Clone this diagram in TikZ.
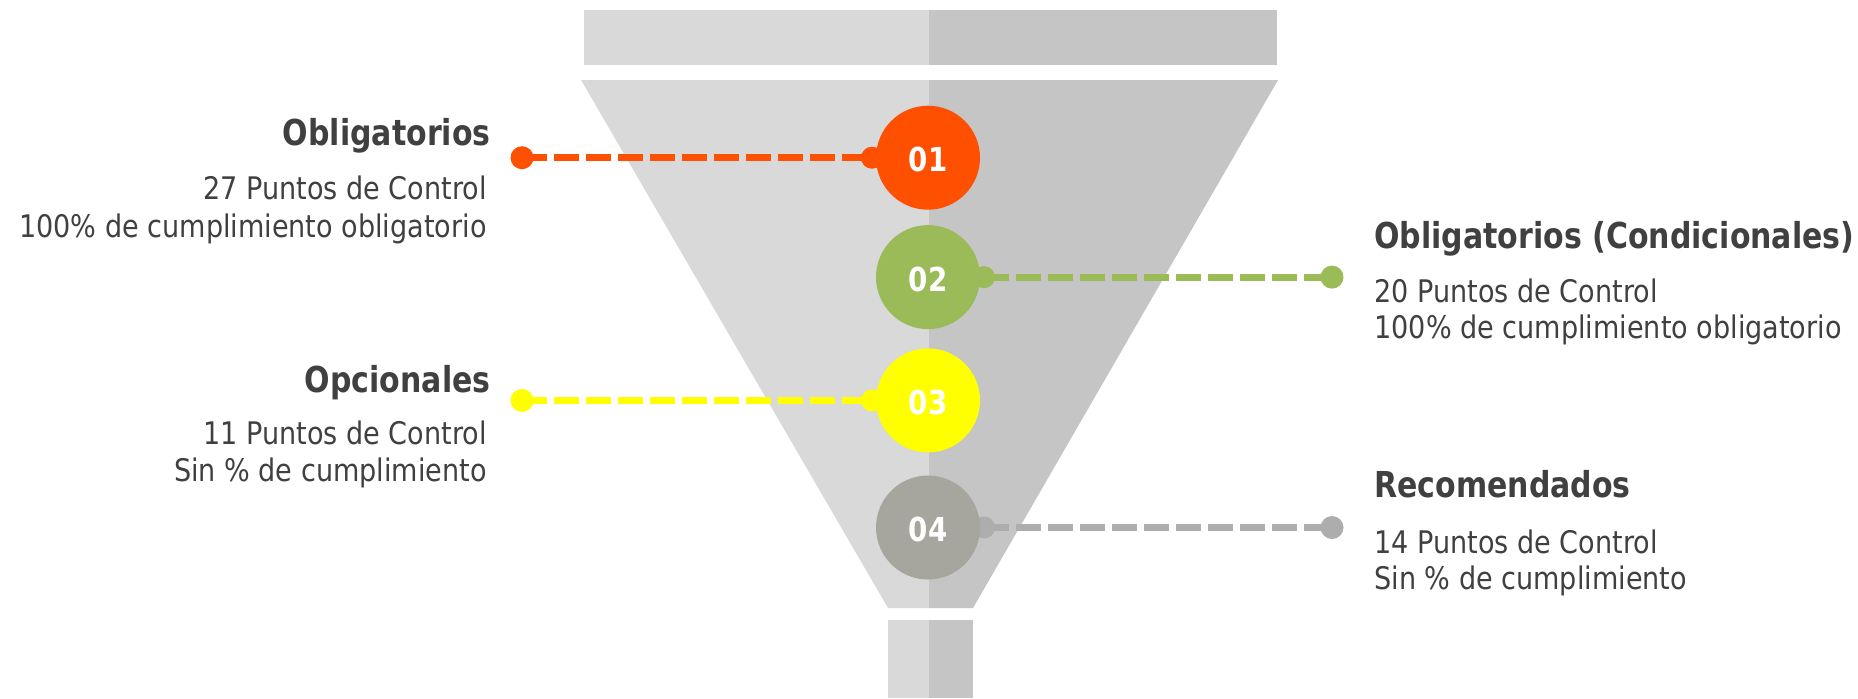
\documentclass[tikz,border=0pt]{standalone}
\usepackage{fontspec}
\setmainfont{DejaVu Sans}
\newfontfamily\bodyfont[FakeStretch=0.87]{DejaVu Sans}
\newfontfamily\headfont[FakeStretch=0.84]{DejaVu Sans Bold}
\definecolor{orangec}{HTML}{FF4F00}
\definecolor{greenc}{HTML}{9BBB59}
\definecolor{yellowc}{HTML}{FFFF00}
\definecolor{graycirc}{HTML}{A6A69E}
\definecolor{graydash}{HTML}{ADADAD}
\definecolor{lightg}{HTML}{D9D9D9}
\definecolor{darkg}{HTML}{C5C5C5}
\definecolor{textgray}{HTML}{404040}
\pgfdeclarelayer{bg}
\pgfdeclarelayer{lines}
\pgfsetlayers{bg,lines,main}
\begin{document}
\begin{tikzpicture}[x=0.5pt,y=-0.5pt,
  txt/.style={text=textgray, inner sep=0pt, font=\bodyfont\fontsize{15.55}{18}\selectfont},
  head/.style={text=textgray, inner sep=0pt, font=\headfont\fontsize{17.85}{20}\selectfont},
  num/.style={circle, minimum size=52pt, inner sep=0pt, text=white, text height=14pt, text depth=0pt, font=\headfont\fontsize{16.5}{18}\selectfont},
  sdot/.style={circle, minimum size=11pt, inner sep=0pt},
  edot/.style={circle, minimum size=11.5pt, inner sep=0pt},
  dline/.style={line width=3.5pt, dash pattern=on 12.5pt off 3.5pt}]
\useasboundingbox (0,0) rectangle (1858,698);
% funnel
\begin{pgfonlayer}{bg}
\fill[lightg] (584,10) rectangle (929,64.5);
\fill[darkg] (929,10) rectangle (1277,64.5);
\fill[lightg] (581,80) -- (929,80) -- (929,608) -- (888,608) -- cycle;
\fill[darkg] (929,80) -- (1278,80) -- (973,608) -- (929,608) -- cycle;
\fill[lightg] (888,620) rectangle (929,698);
\fill[darkg] (929,620) rectangle (973,698);
\end{pgfonlayer}
% dots
\node[sdot, fill=orangec] (s1) at (872,157.7) {};
\node[sdot, fill=greenc] (s2) at (984,277.1) {};
\node[sdot, fill=yellowc] (s3) at (872,400.4) {};
\node[sdot, fill=graydash] (s4) at (984,527.5) {};
\node[edot, fill=orangec] (e1) at (522,157.7) {};
\node[edot, fill=greenc] (e2) at (1332,277.1) {};
\node[edot, fill=yellowc] (e3) at (522,400.4) {};
\node[edot, fill=graydash] (e4) at (1332,527.5) {};
% circles
\node[num, fill=orangec] (c1) at (928,157.7) {01};
\node[num, fill=greenc] (c2) at (928,277.1) {02};
\node[num, fill=yellowc] (c3) at (928,400.4) {03};
\node[num, fill=graycirc] (c4) at (928,527.5) {04};
% connectors
\begin{pgfonlayer}{lines}
\draw[dline, orangec] (e1.center) -- (s1.center);
\draw[dline, greenc] (s2.center) -- (e2.center);
\draw[dline, yellowc] (e3.center) -- (s3.center);
\draw[dline, graydash] (s4.center) -- (e4.center);
\end{pgfonlayer}
% texts left
\node[head, anchor=base east] (h1) at (491,145) {Obligatorios};
\node[txt, anchor=base east] (t1a) at (487,199) {27 Puntos de Control};
\node[txt, anchor=base east] (t1b) at (487,237) {100\% de cumplimiento obligatorio};
\node[head, anchor=base east] (h3) at (491,392) {Opcionales};
\node[txt, anchor=base east] (t3a) at (487,444) {11 Puntos de Control};
\node[txt, anchor=base east] (t3b) at (487,481) {Sin \% de cumplimiento};
% texts right
\node[head, anchor=base west] (h2) at (1374,248) {Obligatorios (Condicionales)};
\node[txt, anchor=base west] (t2a) at (1374,302) {20 Puntos de Control};
\node[txt, anchor=base west] (t2b) at (1374,338.5) {100\% de cumplimiento obligatorio};
\node[head, anchor=base west] (h4) at (1374,497) {Recomendados};
\node[txt, anchor=base west] (t4a) at (1374,553) {14 Puntos de Control};
\node[txt, anchor=base west] (t4b) at (1374,589) {Sin \% de cumplimiento};
\end{tikzpicture}
\end{document}
